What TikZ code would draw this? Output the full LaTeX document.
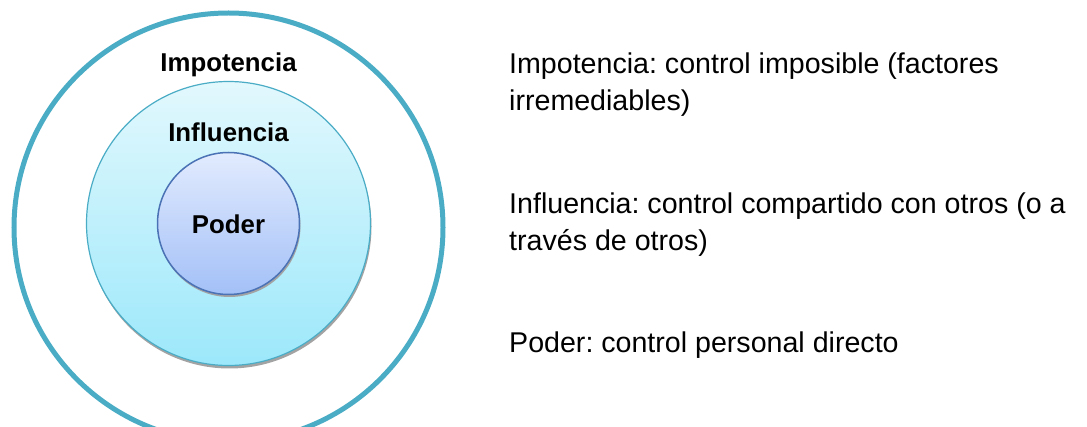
\documentclass[tikz,border=0pt]{standalone}
\usepackage{fontspec}
\setmainfont{Liberation Sans}
\frenchspacing
\definecolor{ringblue}{HTML}{4BACC6}
\definecolor{innerline}{HTML}{4A72B5}
\definecolor{midtop}{HTML}{E2F8FD}
\definecolor{midbot}{HTML}{9CE8FB}
\definecolor{intop}{HTML}{E2EBFE}
\definecolor{inbot}{HTML}{A3C0F7}
\definecolor{shadowgray}{HTML}{8C8C8C}
\tikzset{
  lbl/.style={font=\fontsize{25.8}{30}\selectfont\bfseries, inner sep=0pt},
  desc/.style={font=\fontsize{28.6}{37}\selectfont, inner sep=0pt, anchor=base west},
  ring/.style={circle, inner sep=0pt, minimum size=#1},
}
\begin{document}
\begin{tikzpicture}[x=1pt,y=-1pt]
\useasboundingbox (0,0) rectangle (1087,427);
\begin{scope}
\clip (0,0) rectangle (1087,427);
% outer ring
\node[ring=429pt, draw=ringblue, line width=5pt] (outer) at (228.5,227.5) {};
% middle shadow and circle
\node[ring=284pt, fill=shadowgray!80] (midshadow) at (229.5,226.5) {};
\node[ring=284pt, draw=ringblue, line width=1.2pt, top color=midtop, bottom color=midbot] (mid) at (228.5,223.5) {};
% inner shadow and circle
\node[ring=142pt, fill=shadowgray!80] (innshadow) at (229.5,226) {};
\node[ring=142pt, draw=innerline, line width=1.5pt, top color=intop, bottom color=inbot] (inner) at (228.5,223.5) {};
\end{scope}
% labels
\node[lbl, anchor=base] (limp) at (228.5,71.5) {Impotencia};
\node[lbl, anchor=base] (linf) at (228.5,141.5) {Influencia};
\node[lbl, anchor=base] (lpod) at (228.5,234) {Poder};
% descriptions
\node[desc] (d1a) at (509,74) {Impotencia: control imposible (factores};
\node[desc] (d1b) at (509,111) {irremediables)};
\node[desc] (d2a) at (509,214) {Influencia: control compartido con otros (o a};
\node[desc] (d2b) at (509,251) {través de otros)};
\node[desc] (d3) at (509,353) {Poder: control personal directo};
\end{tikzpicture}
\end{document}
